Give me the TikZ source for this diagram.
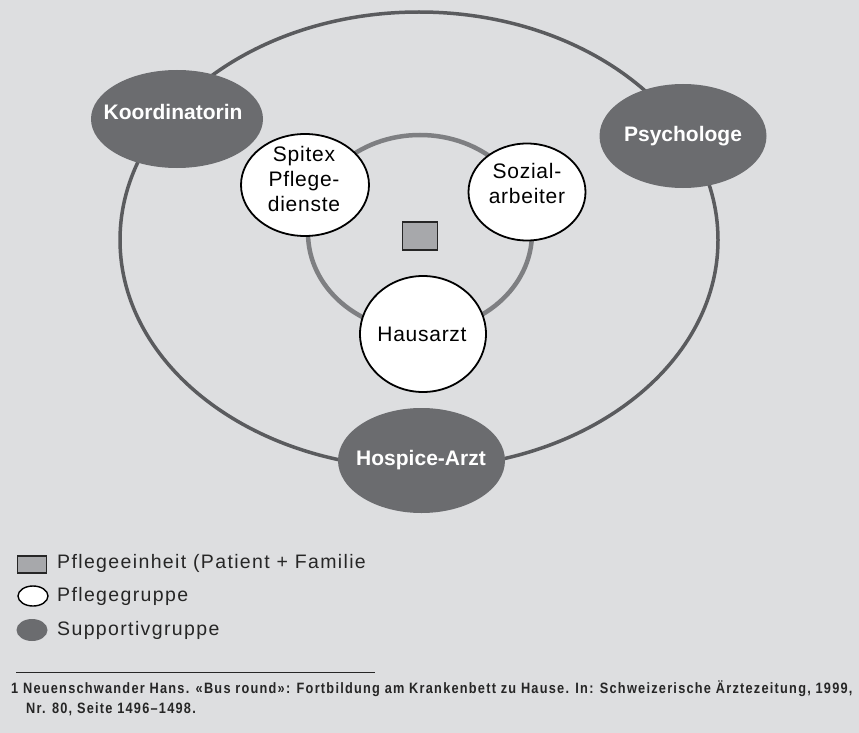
\documentclass[tikz,border=0pt]{standalone}
\usepackage{fontspec}
\setmainfont{Liberation Sans}
\newfontfamily\circfont[LetterSpace=3.5]{Liberation Sans}
\newfontfamily\legfont[LetterSpace=7]{Liberation Sans}
\newfontfamily\notefont[FakeStretch=0.85,LetterSpace=8.3]{Liberation Sans Bold}
\usetikzlibrary{shapes.geometric}
\definecolor{bg}{HTML}{DDDEE0}
\definecolor{darkgrp}{HTML}{6B6C6F}
\definecolor{ringouter}{HTML}{5A5B5E}
\definecolor{ringinner}{HTML}{7E7F82}
\definecolor{unitfill}{HTML}{A7A8AB}
\tikzset{
  pflege/.style={ellipse, draw=black, line width=1.8pt, fill=white, inner sep=0pt},
  pflegetext/.style={align=center, inner sep=0pt, font=\circfont\fontsize{21}{25}\selectfont},
  support/.style={ellipse, fill=darkgrp, inner sep=0pt},
  supporttext/.style={anchor=base, inner sep=0pt, text=white,
    font=\fontsize{21}{24}\selectfont\bfseries},
  legtext/.style={anchor=west, inner sep=0pt, text=black!85,
    font=\legfont\fontsize{19.5}{22}\selectfont},
  notetext/.style={anchor=base west, inner sep=0pt, text=black!85,
    font=\notefont\fontsize{15}{20}\selectfont},
}
\begin{document}
\begin{tikzpicture}[x=1pt,y=-1pt]
  \fill[bg] (0,0) rectangle (859,733);
  \useasboundingbox (0,0) rectangle (859,733);

  % rings
  \draw[ringouter, line width=3.5pt] (419,240) ellipse [x radius=299, y radius=228];
  \draw[ringinner, line width=4.5pt] (420,233) ellipse [x radius=112, y radius=98];

  % care unit
  \node (unit) [draw=black!85, line width=1.8pt, fill=unitfill, minimum width=35pt,
    minimum height=28pt, inner sep=0pt] at (420,236) {};

  % care group
  \node (spitex) [pflege, minimum width=128pt, minimum height=102pt] at (305,185) {};
  \node (sozial) [pflege, minimum width=117pt, minimum height=97pt] at (527,192) {};
  \node (haus) [pflege, minimum width=126pt, minimum height=116pt] at (423,334) {};
  \node (spitexlbl) [pflegetext] at (304,179) {Spitex\\Pflege-\\dienste};
  \node (soziallbl) [pflegetext] at (527,183.5) {Sozial-\\arbeiter};
  \node (hauslbl) [pflegetext, anchor=base] at (422,341.5) {Hausarzt};

  % support group
  \node (koord) [support, minimum width=172pt, minimum height=98pt] at (177,119) {};
  \node (psych) [support, minimum width=167pt, minimum height=104pt] at (683,136) {};
  \node (hosp) [support, minimum width=167pt, minimum height=105pt] at (421.5,460.5) {};
  \node (koordlbl) [supporttext] at (173,120) {Koordinatorin};
  \node (psychlbl) [supporttext] at (683,141.5) {Psychologe};
  \node (hosplbl) [supporttext] at (421,465) {Hospice-Arzt};

  % legend
  \node (lg1) [draw=black!85, line width=1.2pt, fill=unitfill, minimum width=29pt,
    minimum height=17pt, inner sep=0pt] at (32,564.5) {};
  \node (lg1t) [legtext] at (57,563) {Pflegeeinheit (Patient + Familie};
  \node (lg2) [ellipse, draw=black, line width=1.4pt, fill=white, minimum width=30pt,
    minimum height=20pt, inner sep=0pt] at (33,596) {};
  \node (lg2t) [legtext] at (57,596) {Pflegegruppe};
  \node (lg3) [ellipse, fill=darkgrp, minimum width=31pt, minimum height=22pt,
    inner sep=0pt] at (32,630) {};
  \node (lg3t) [legtext] at (57,630) {Supportivgruppe};

  % footnote
  \coordinate (ruleA) at (16,672);
  \coordinate (ruleB) at (375,672);
  \draw[black!85, line width=0.8pt] (ruleA) -- (ruleB);
  \node (note1) [notetext] at (11,693)
    {1 Neuenschwander Hans. «Bus round»: Fortbildung am Krankenbett zu Hause. In: Schweizerische Ärztezeitung, 1999,};
  \node (note2) [notetext] at (26,713) {Nr. 80, Seite 1496–1498.};
\end{tikzpicture}
\end{document}
